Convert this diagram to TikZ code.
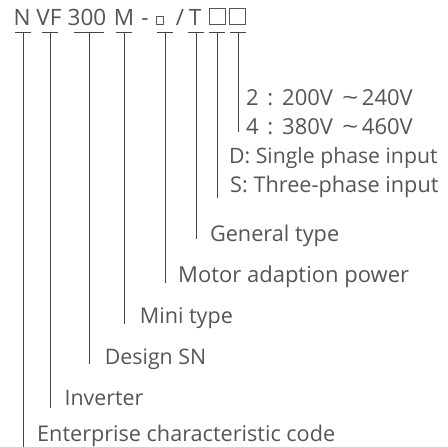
\documentclass[tikz,border=0pt]{standalone}
\usepackage{fontspec}
\usepackage{graphicx}
\setmainfont{Open Sans}
\definecolor{txt}{HTML}{555555}
\definecolor{ln}{HTML}{444444}
\newlength\fitw
\newcommand\fitto[2]{\settowidth\fitw{\fontsize{21}{24}\selectfont #2}%
  \pgfmathsetmacro\fitfs{21*#1/\fitw}%
  {\fontsize{\fitfs}{24}\selectfont #2}}
\newcommand\volt[2]{\makebox[36pt][l]{#1\hspace{8.5pt}:}#2}
\begin{document}
\begin{tikzpicture}[x=1pt,y=-1pt,
  hd/.style={font=\fontsize{22.5}{24}\selectfont, text=txt, inner sep=0pt, anchor=base},
  lbl/.style={text=txt, inner sep=0pt, anchor=base west},
  bar/.style={draw=ln, line width=0.8pt},
  stem/.style={draw=ln, line width=0.8pt},
  bx/.style={draw=txt, line width=0.8pt, inner sep=0pt, minimum size=16pt, anchor=south west}]
\useasboundingbox (0,0) rectangle (448,447);
% header
\node[hd] (hN) at (22,25) {N};
\node[hd] (hVF) at (49,25) {VF};
\node[hd] (h300) at (87,25) {300};
\node[hd] (hM) at (124,25) {M};
\node[hd] (hdash) at (145,25) {-};
\node[bx, minimum size=7.5pt] (hsq) at (155.5,24.5) {};
\node[hd] (hsl) at (180,25) {/};
\node[hd] (hT) at (195,25) {T};
\node[bx] (hb1) at (209,24.5) {};
\node[bx] (hb2) at (229,24.5) {};
% bars
\coordinate (tN) at (23,32);
\coordinate (tVF) at (50,32);
\coordinate (t300) at (89,32);
\coordinate (tM) at (124,32);
\coordinate (tsq) at (165,32);
\coordinate (tT) at (196,32);
\coordinate (tb1) at (217,32);
\coordinate (tb2) at (238,32);
\foreach \c in {tN,tVF,tM,tsq,tT,tb1,tb2}{
  \draw[bar] ([xshift=-8pt]\c) -- ([xshift=8pt]\c);
}
\draw[bar] ([xshift=-15pt]t300) -- ([xshift=15pt]t300);
% labels
\node[lbl, font=\fontsize{22}{24}\selectfont] (v2) at (246,105)
  {\volt{2}{200V}\hspace{9pt}\scalebox{1.3}[1]{\char"007E}\hspace{3.6pt}240V};
\node[lbl, font=\fontsize{22}{24}\selectfont] (v4) at (246,134)
  {\volt{4}{380V}\hspace{9pt}\scalebox{1.3}[1]{\char"007E}\hspace{3.6pt}460V};
\node[lbl] (pD) at (229,163) {\fitto{208.3}{D: Single phase input}};
\node[lbl] (pS) at (230,192) {\fitto{208.3}{S: Three-phase input}};
\node[lbl] (lG) at (209.8,241) {\fitto{129.2}{General type}};
\node[lbl] (lMo) at (178,282) {\fitto{230.9}{Motor adaption power}};
\node[lbl] (lMi) at (139.7,323) {\fitto{93}{Mini type}};
\node[lbl] (lD) at (104.7,364) {\fitto{101.3}{Design SN}};
\node[lbl] (lI) at (64.5,405) {\fitto{78.5}{Inverter}};
\node[lbl] (lE) at (37,441) {\fitto{298}{Enterprise characteristic code}};
% line ends
\coordinate (eb2) at (238,132);
\coordinate (eb1) at (217,198);
\coordinate (eT) at (196,239);
\coordinate (esq) at (165,283);
\coordinate (eM) at (124,324);
\coordinate (e300) at (89,364);
\coordinate (eVF) at (50,408);
\coordinate (eN) at (23,447);
\draw[stem] (tb2) -- (eb2);
\draw[stem] (tb1) -- (eb1);
\draw[stem] (tT) -- (eT);
\draw[stem] (tsq) -- (esq);
\draw[stem] (tM) -- (eM);
\draw[stem] (t300) -- (e300);
\draw[stem] (tVF) -- (eVF);
\draw[stem] (tN) -- (eN);
\end{tikzpicture}
\end{document}
